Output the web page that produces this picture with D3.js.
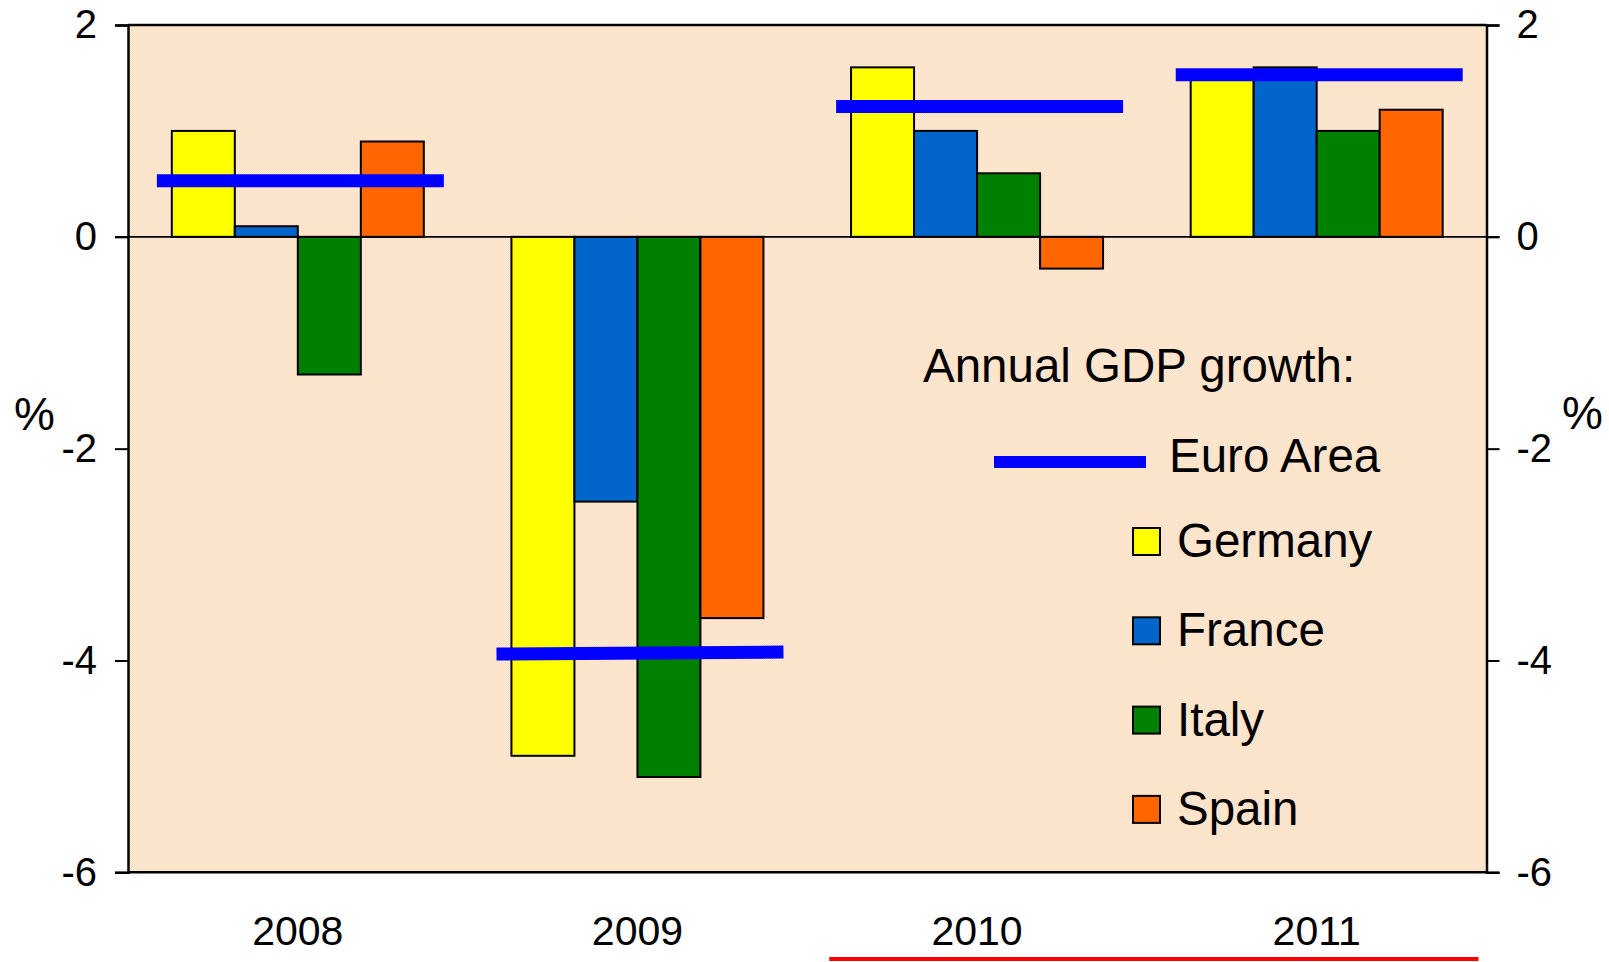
<!DOCTYPE html>
<html>
<head>
<meta charset="utf-8">
<script src="https://cdn.jsdelivr.net/npm/d3@7/dist/d3.min.js"></script>
<style>
  html, body { margin: 0; padding: 0; background: #ffffff; }
  svg { display: block; font-family: "Liberation Sans", Arial, sans-serif; }
</style>
</head>
<body>
<svg id="chart" width="1609" height="962"></svg>
<script>
// ---- data ----
const years = ["2008", "2009", "2010", "2011"];
const countries = ["Germany", "France", "Italy", "Spain"];
const germany = [1.0, -4.9, 1.6, 1.5];
const france  = [0.1, -2.5, 1.0, 1.6];
const italy   = [-1.3, -5.1, 0.6, 1.0];
const spain   = [0.9, -3.6, -0.3, 1.2];
const euroAreaStart = [0.53, -3.94, 1.23, 1.53];
const euroAreaEnd   = [0.53, -3.92, 1.23, 1.53];
const yTicks = [2, 0, -2, -4, -6];
const yTickLabels = ["2", "0", "-2", "-4", "-6"];
const legendTitle = "Annual GDP growth:";
const euroLabel = "Euro Area";
const colors = ["#FFFF00", "#0066CC", "#008000", "#FF6600"];
const euroColor = "#0000FF";

const seriesValues = [germany, france, italy, spain];

// ---- layout ----
const svg = d3.select("#chart");
const plot = { left: 128, right: 1486.5, top: 25, bottom: 872.3 };

const x0 = d3.scaleBand().domain(years).range([plot.left, plot.right]).padding(0);
const bw = x0.bandwidth();
const x1 = d3.scaleBand().domain(countries).range([bw * 0.129, bw * 0.871]).padding(0);
const y = d3.scaleLinear().domain([-6, 2]).range([plot.bottom, plot.top]);

// background pattern
const defs = svg.append("defs");
const pat = defs.append("pattern").attr("id", "bgpat")
  .attr("patternUnits", "userSpaceOnUse").attr("width", 2).attr("height", 2);
pat.append("rect").attr("width", 2).attr("height", 2).attr("fill", "#FFEBD9");
pat.append("rect").attr("x", 0).attr("y", 0).attr("width", 1).attr("height", 1).attr("fill", "#FFDDBF");
pat.append("rect").attr("x", 1).attr("y", 1).attr("width", 1).attr("height", 1).attr("fill", "#FFDDBF");

svg.append("rect")
  .attr("x", plot.left).attr("y", plot.top)
  .attr("width", plot.right - plot.left).attr("height", plot.bottom - plot.top)
  .attr("fill", "url(#bgpat)");

// bars
const barData = [];
years.forEach((yr, i) => {
  countries.forEach((c, j) => {
    barData.push({ year: yr, country: c, value: seriesValues[j][i], color: colors[j] });
  });
});

svg.append("g").selectAll("rect").data(barData).join("rect")
  .attr("x", d => x0(d.year) + x1(d.country))
  .attr("width", x1.bandwidth())
  .attr("y", d => y(Math.max(0, d.value)))
  .attr("height", d => Math.abs(y(d.value) - y(0)))
  .attr("fill", d => d.color)
  .attr("stroke", "#000")
  .attr("stroke-width", 2);

// zero line
svg.append("line")
  .attr("x1", plot.left - 13).attr("x2", plot.right + 13)
  .attr("y1", y(0)).attr("y2", y(0))
  .attr("stroke", "#000").attr("stroke-width", 1.6);

// euro area lines
const euroData = years.map((yr, i) => ({ year: yr, a: euroAreaStart[i], b: euroAreaEnd[i] }));
svg.append("g").selectAll("line").data(euroData).join("line")
  .attr("x1", d => x0(d.year) + bw * 0.085)
  .attr("x2", d => x0(d.year) + bw * 0.93)
  .attr("y1", d => y(d.a))
  .attr("y2", d => y(d.b))
  .attr("stroke", euroColor)
  .attr("stroke-width", 13);

// axes
const fmt = d => yTickLabels[yTicks.indexOf(d)];
const leftAxis = d3.axisLeft(y).tickValues(yTicks).tickSize(13).tickPadding(18).tickFormat(fmt);
const rightAxis = d3.axisRight(y).tickValues(yTicks).tickSize(13).tickPadding(17).tickFormat(fmt);

const gl = svg.append("g").attr("transform", `translate(${plot.left},0)`).call(leftAxis);
const gr = svg.append("g").attr("transform", `translate(${plot.right},0)`).call(rightAxis);
[gl, gr].forEach(g => {
  g.select(".domain").attr("stroke", "#000").attr("stroke-width", 2.5);
  g.selectAll(".tick line").attr("stroke", "#000").attr("stroke-width", 2);
  g.selectAll(".tick text").attr("fill", "#000")
    .attr("font-size", 40).attr("font-family", "Liberation Sans, Arial, sans-serif");
});

// top & bottom frame
svg.append("line").attr("x1", plot.left).attr("x2", plot.right)
  .attr("y1", plot.top).attr("y2", plot.top).attr("stroke", "#000").attr("stroke-width", 2.5);
svg.append("line").attr("x1", plot.left).attr("x2", plot.right)
  .attr("y1", plot.bottom).attr("y2", plot.bottom).attr("stroke", "#000").attr("stroke-width", 2.5);

// x labels
svg.append("g").selectAll("text").data(years).join("text")
  .attr("x", d => x0(d) + bw / 2)
  .attr("y", 945)
  .attr("text-anchor", "middle")
  .attr("font-size", 41)
  .attr("fill", "#000")
  .text(d => d);

// red underline under 2010-2011
svg.append("line")
  .attr("x1", x0("2010") + 22).attr("x2", x0("2011") + bw - 8)
  .attr("y1", 959).attr("y2", 959)
  .attr("stroke", "#FF0000").attr("stroke-width", 4);

// % labels
svg.append("text").attr("x", 14).attr("y", 430).attr("font-size", 46).attr("fill", "#000").text("%");
svg.append("text").attr("x", 1562).attr("y", 429).attr("font-size", 46).attr("fill", "#000").text("%");

// legend
const lg = svg.append("g");
lg.append("text").attr("x", 923).attr("y", 382).attr("font-size", 47.5).attr("fill", "#000").text(legendTitle);
lg.append("line").attr("x1", 994).attr("x2", 1146).attr("y1", 462).attr("y2", 462)
  .attr("stroke", euroColor).attr("stroke-width", 12);
lg.append("text").attr("x", 1169).attr("y", 472).attr("font-size", 47.5).attr("fill", "#000").text(euroLabel);

const items = lg.selectAll("g.item").data(countries).join("g").attr("class", "item")
  .attr("transform", (d, i) => `translate(0, ${528 + i * 89.3})`);
items.append("rect").attr("x", 1133).attr("y", 0).attr("width", 27).attr("height", 27)
  .attr("fill", (d, i) => colors[i]).attr("stroke", "#000").attr("stroke-width", 2);
items.append("text").attr("x", 1177).attr("y", 29).attr("font-size", 47.5).attr("fill", "#000").text(d => d);
</script>
</body>
</html>
